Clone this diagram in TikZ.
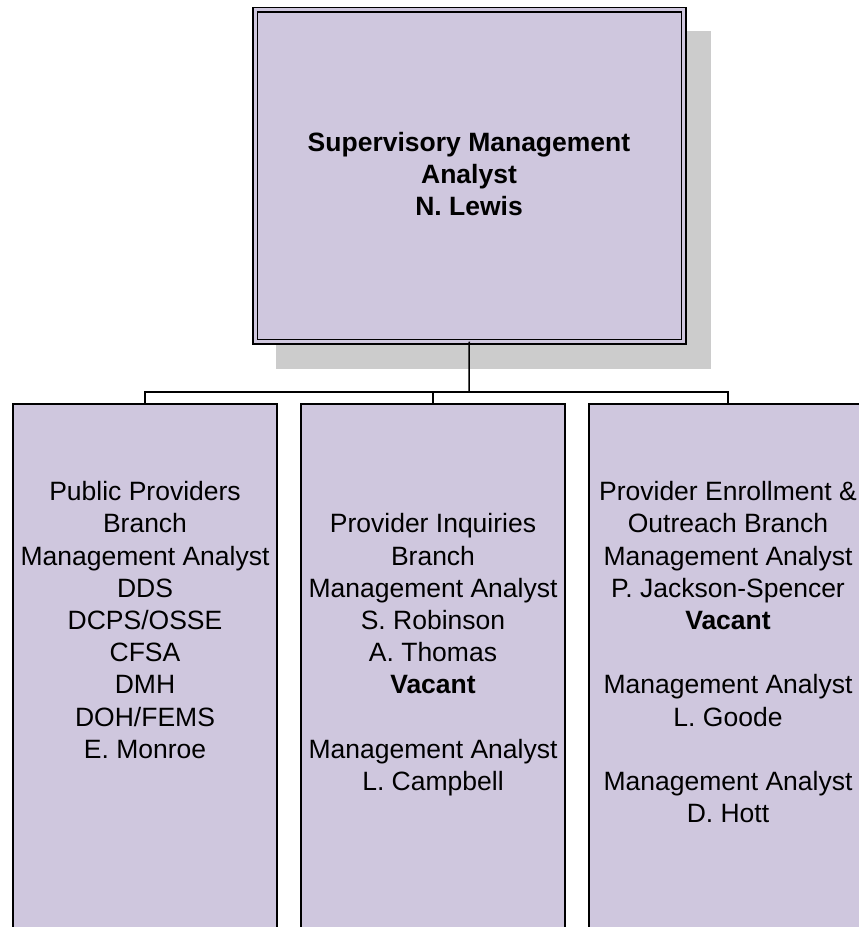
\documentclass[tikz,border=0pt]{standalone}
\usepackage{fontspec}
\setmainfont{Liberation Sans}
\usetikzlibrary{backgrounds}
\definecolor{lav}{RGB}{207,199,222}
\definecolor{shad}{RGB}{204,204,204}
\begin{document}
\begin{tikzpicture}[x=1pt,y=-1pt,
  topbox/.style={draw=black, line width=1.5pt, double=lav, double distance=3pt, fill=lav, inner sep=0pt, outer sep=0pt, minimum width=428.5pt, minimum height=332pt, anchor=north west},
  unitbox/.style={draw=black, line width=1.5pt, fill=lav, inner sep=0pt, outer sep=0pt, minimum height=560pt, anchor=north west},
  txt/.style={align=center, inner sep=0pt, anchor=north, font=\fontsize{26.5}{32.2}\selectfont},
  toptxt/.style={align=center, inner sep=0pt, anchor=north, font=\fontsize{26.5}{31.7}\selectfont\bfseries},
  link/.style={line width=1.5pt}]
\useasboundingbox (0,0) rectangle (859,927);
\clip (0,0) rectangle (859,927);
% top box with shadow
\node[topbox] (top) at (255,9.5) {};
\begin{scope}[on background layer]
  \fill[shad] ([shift={(21,21)}]top.north west) rectangle ([shift={(27,27)}]top.south east);
\end{scope}
\node[toptxt] (toptext) at (469,132.3) {Supervisory Management\\Analyst\\N. Lewis};
% branch boxes
\node[unitbox, minimum width=264pt] (b1) at (13,404) {};
\node[unitbox, minimum width=264pt] (b2) at (301,404) {};
\node[unitbox, minimum width=278pt] (b3) at (589,404) {};
% connectors
\coordinate (j) at (469,392);
\draw[link] (top.south) -- (j);
\draw[link] (b1.north) |- (j) -| (b3.north);
\draw[link] (b2.north) -- (b2.north |- j);
% texts
\node[txt] (t1) at (145,481.3) {Public Providers\\Branch\\Management Analyst\\DDS\\DCPS/OSSE\\CFSA\\DMH\\DOH/FEMS\\E. Monroe};
\node[txt] (t2) at (433,513.5) {Provider Inquiries\\Branch\\Management Analyst\\S. Robinson\\A. Thomas\\\textbf{Vacant}\\\mbox{}\\Management Analyst\\L. Campbell};
\node[txt] (t3) at (728,481.3) {Provider Enrollment \&\\Outreach Branch\\Management Analyst\\P. Jackson-Spencer\\\textbf{Vacant}\\\mbox{}\\Management Analyst\\L. Goode\\\mbox{}\\Management Analyst\\D. Hott};
\end{tikzpicture}
\end{document}
